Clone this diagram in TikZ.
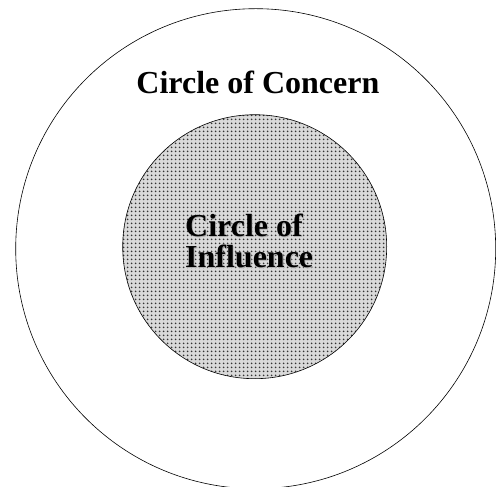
\documentclass[tikz,border=0pt]{standalone}
\usepackage{fontspec}
\setmainfont{Liberation Serif}
\usetikzlibrary{patterns.meta}
\begin{document}
\begin{tikzpicture}[x=1pt,y=1pt,
  label/.style={inner sep=0pt, font=\fontsize{32}{32}\selectfont\bfseries, text=black},
  ring/.style={draw=black, line width=0.6pt}]
\useasboundingbox (0,0) rectangle (496,487);
\fill[white] (0,0) rectangle (496,487);
% outer circle
\draw[ring] (255.7,238.3) circle[radius=240];
% inner circle with dot pattern
\fill[gray!30] (254.7,240.3) circle[radius=132];
\fill[pattern={Dots[distance=4pt, radius=1.15pt]}, pattern color=black!80] (254.7,240.3) circle[radius=132];
\draw[ring] (254.7,240.3) circle[radius=132];
% labels
\node[label, anchor=base] (concern) at (257.9,393.7) {Circle of Concern};
\node[label, anchor=base west, text=gray!60] at (185.8,249.2) {Circle of};
\node[label, anchor=base west, text=gray!60] at (185.8,218.2) {Influence};
\node[label, anchor=base west] (infA) at (185,250) {Circle of};
\node[label, anchor=base west] (infB) at (185,219) {Influence};
\end{tikzpicture}
\end{document}
